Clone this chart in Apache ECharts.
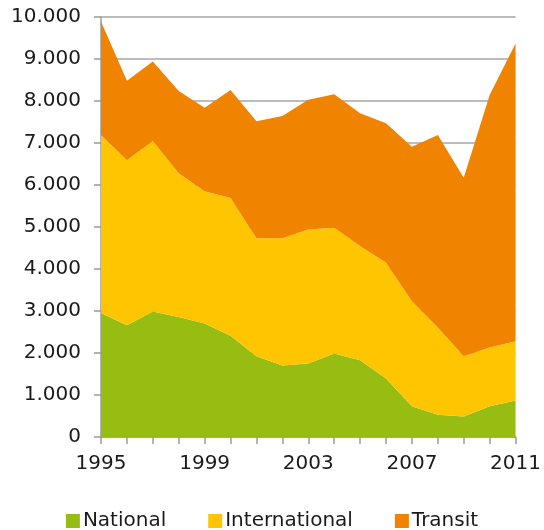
<!DOCTYPE html>
<html>
<head>
<meta charset="utf-8">
<style>
  html, body { margin: 0; padding: 0; background: #ffffff; }
  #chart { width: 544px; height: 530px; }
</style>
<script src="https://cdn.jsdelivr.net/npm/echarts@6/dist/echarts.min.js"></script>
</head>
<body>
<div id="chart"></div>
<script>
// Years on the horizontal axis
const years = ['1995','1996','1997','1998','1999','2000','2001','2002','2003',
               '2004','2005','2006','2007','2008','2009','2010','2011'];

// Stacked components
const national      = [2950, 2660, 2990, 2860, 2700, 2410, 1920, 1700, 1750, 1990, 1830, 1390, 730, 530, 490, 730, 870];
const international = [4240, 3930, 4060, 3420, 3150, 3280, 2810, 3030, 3190, 2990, 2720, 2760, 2500, 2080, 1430, 1400, 1410];
const transit       = [2700, 1890, 1890, 1960, 1990, 2570, 2790, 2910, 3090, 3180, 3160, 3320, 3680, 4580, 4250, 6010, 7090];

const seriesNames = ['National', 'International', 'Transit'];
const seriesColors = ['#97bd12', '#fec500', '#f08300'];

// Thousands separated with a dot
function fmt(v) {
  return String(v).replace(/\B(?=(\d{3})+(?!\d))/g, '.');
}

const textColor = '#1a1a1a';
const fontFamily = '"DejaVu Sans", Verdana, sans-serif';

const chart = echarts.init(document.getElementById('chart'), null, { renderer: 'canvas' });

function areaSeries(name, data, color) {
  return {
    name: name,
    type: 'line',
    stack: 'total',
    data: data,
    symbol: 'none',
    lineStyle: { width: 0, color: color },
    itemStyle: { color: color },
    areaStyle: { color: color, opacity: 1 },
    emphasis: { disabled: true },
    animation: false
  };
}

chart.setOption({
  animation: false,
  textStyle: { fontFamily: fontFamily },
  grid: { left: 101, right: 28, top: 17, bottom: 93, containLabel: false },
  legend: {
    data: seriesNames,
    left: 'center',
    bottom: -6,
    itemWidth: 14,
    itemHeight: 14,
    itemGap: 42,
    icon: 'rect',
    textStyle: { fontFamily: fontFamily, fontSize: 20, color: textColor, padding: [0, 0, 0, -2] }
  },
  xAxis: {
    type: 'category',
    data: years,
    boundaryGap: false,
    axisLine: { lineStyle: { color: '#9a9a9a', width: 1.5 } },
    axisTick: { show: true, interval: 0, length: 7, lineStyle: { color: '#9a9a9a', width: 1.5 } },
    axisLabel: { interval: 3, color: textColor, fontSize: 20, fontFamily: fontFamily, margin: 17 },
    splitLine: { show: false }
  },
  yAxis: {
    type: 'value',
    min: 0,
    max: 10000,
    interval: 1000,
    axisLine: { show: true, lineStyle: { color: '#9a9a9a', width: 1.5 } },
    axisTick: { show: true, length: 7, lineStyle: { color: '#9a9a9a', width: 1.5 } },
    axisLabel: { color: textColor, fontSize: 20, fontFamily: fontFamily, margin: 20, formatter: fmt },
    splitLine: { show: true, lineStyle: { color: '#a6a6a6', width: 1.5 } }
  },
  series: [
    areaSeries(seriesNames[0], national, seriesColors[0]),
    areaSeries(seriesNames[1], international, seriesColors[1]),
    areaSeries(seriesNames[2], transit, seriesColors[2])
  ]
});
</script>
</body>
</html>
